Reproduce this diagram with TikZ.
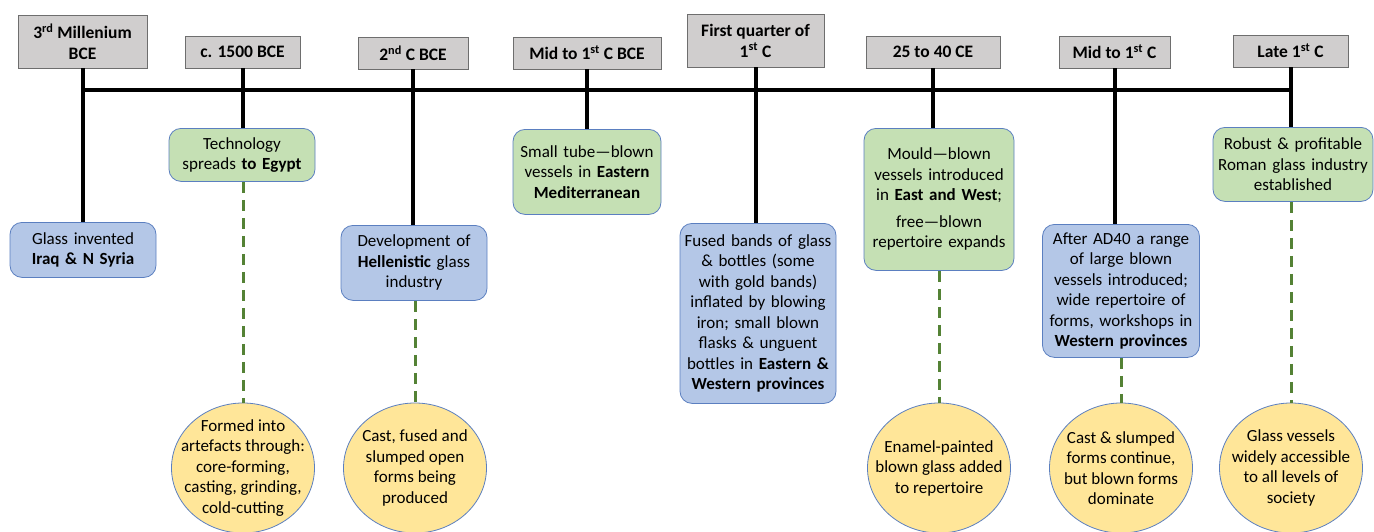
\documentclass[tikz,border=0pt]{standalone}
\usepackage{fontspec}
\setmainfont{Carlito}
\usetikzlibrary{shapes.geometric}

\definecolor{hdrgray}{HTML}{D0CECE}
\definecolor{hdrline}{HTML}{6E6E6E}
\definecolor{boxline}{HTML}{5B7FC0}
\definecolor{bluefill}{HTML}{B4C7E7}
\definecolor{greenfill}{HTML}{C5E0B4}
\definecolor{yellowfill}{HTML}{FFE699}
\definecolor{dashgreen}{HTML}{548235}

\begin{document}
\begin{tikzpicture}[x = 1pt, y = -1pt, % one unit per pixel, y running down
                font = \fontsize{17}{20.5}\selectfont, % body text
                semithick % line style
            ]

            \tikzstyle{hdr}=[draw = hdrline, fill = hdrgray, thin, align = center,
            inner sep = 2pt, font = \fontsize{17.5}{21}\selectfont\bfseries]
            \tikzstyle{event}=[draw = boxline, thick, rounded corners = 12pt,
            align = center, inner sep = 2pt, anchor = north]
            \tikzstyle{blue}=[event, fill = bluefill]
            \tikzstyle{green}=[event, fill = greenfill]
            \tikzstyle{result}=[draw = boxline, thick, fill = yellowfill, ellipse,
            inner sep = -20pt, minimum width = 143pt, minimum height = 130pt,
            align = center]
            \tikzstyle{stem}=[line width = 4pt, black]
            \tikzstyle{dashline}=[line width = 3pt, dashgreen,
            dash pattern = on 11pt off 7pt]

            \useasboundingbox (0,0) rectangle (1374,531);

            % dates along the top
            \node[hdr, minimum width = 129pt, minimum height = 53pt] (h1) at (82.5,41.5)
            {3\textsuperscript{rd} Millenium\\ BCE};
            \node[hdr, minimum width = 115pt, minimum height = 32pt] (h2) at (242.5,52)
            {c. 1500 BCE};
            \node[hdr, minimum width = 110pt, minimum height = 32pt] (h3) at (413,53)
            {2\textsuperscript{nd} C BCE};
            \node[hdr, minimum width = 148pt, minimum height = 32pt] (h4) at (587,53)
            {Mid to 1\textsuperscript{st} C BCE};
            \node[hdr, minimum width = 137pt, minimum height = 53pt] (h5) at (755.5,40.5)
            {First quarter of\\ 1\textsuperscript{st} C};
            \node[hdr, minimum width = 134pt, minimum height = 32pt] (h6) at (933,52)
            {25 to 40 CE};
            \node[hdr, minimum width = 111pt, minimum height = 32pt] (h7) at (1114.5,52)
            {Mid to 1\textsuperscript{st} C};
            \node[hdr, minimum width = 115pt, minimum height = 32pt] (h8) at (1290.5,51)
            {Late 1\textsuperscript{st} C};

            \coordinate (axis) at (0,90);

            % events
            \node[blue, text width = 142pt, minimum height = 55pt] (b1) at (83,222)
            {Glass invented\\ \textbf{Iraq \& N Syria}};
            \node[green, text width = 142pt, minimum height = 53pt] (g2) at (242,128)
            {Technology\\ spreads \textbf{to Egypt}};
            \node[blue, text width = 142pt, minimum height = 75pt] (b3) at (414,225)
            {Development of\\ \textbf{Hellenistic} glass\\ industry};
            \node[green, text width = 144pt, minimum height = 85pt] (g4) at (587,129)
            {Small tube---blown\\ vessels in \textbf{Eastern}\\ \textbf{Mediterranean}};
            \node[blue, text width = 152pt, minimum height = 180pt] (b5) at (758,223)
            {Fused bands of glass\\ \& bottles (some\\ with gold bands)\\ inflated by blowing\\
            iron; small blown\\ flasks \& unguent\\ bottles in \textbf{Eastern \&}\\
            \textbf{Western provinces}};
            \node[green, text width = 146pt, minimum height = 142pt] (g6) at (939,128)
            {Mould---blown\\ vessels introduced\\ in \textbf{East and West};\\[6pt]
            free---blown\\ repertoire expands};
            \node[blue, text width = 153pt, minimum height = 133pt] (b7) at (1121,224)
            {After AD40 a range\\ of large blown\\ vessels introduced;\\ wide repertoire of\\
            forms, workshops in\\ \textbf{Western provinces}};
            \node[green, text width = 156pt, minimum height = 74pt] (g8) at (1293,127)
            {Robust \& profitable\\ Roman glass industry\\ established};

            % outcomes
            \node[result] (c2) at (243,468) {Formed into\\ artefacts through:\\
            core-forming,\\ casting, grinding,\\ cold-cutting};
            \node[result] (c3) at (415,468) {Cast, fused and\\ slumped open\\ forms being\\ produced};
            \node[result] (c6) at (939,468) {Enamel-painted\\ blown glass added\\ to repertoire};
            \node[result] (c7) at (1121,468) {Cast \& slumped\\ forms continue,\\
            but blown forms\\ dominate};
            \node[result] (c8) at (1291,468) {Glass vessels\\ widely accessible\\
            to all levels of\\ society};

            % timeline
            \draw[stem] (h1 |- axis) -- (h8 |- axis);
            \draw[stem] (h1) -- (h1 |- b1.north); \draw[stem] (h2) -- (h2 |- g2.north);
            \draw[stem] (h3) -- (h3 |- b3.north); \draw[stem] (h4) -- (h4 |- g4.north);
            \draw[stem] (h5) -- (h5 |- b5.north); \draw[stem] (h6) -- (h6 |- g6.north);
            \draw[stem] (h7) -- (h7 |- b7.north); \draw[stem] (h8) -- (h8 |- g8.north);

            \draw[dashline] (g2.south -| c2) -- (c2); \draw[dashline] (b3.south -| c3) -- (c3);
            \draw[dashline] (g6.south -| c6) -- (c6); \draw[dashline] (b7.south -| c7) -- (c7);
            \draw[dashline] (g8.south -| c8) -- (c8);
\end{tikzpicture}
\end{document}
